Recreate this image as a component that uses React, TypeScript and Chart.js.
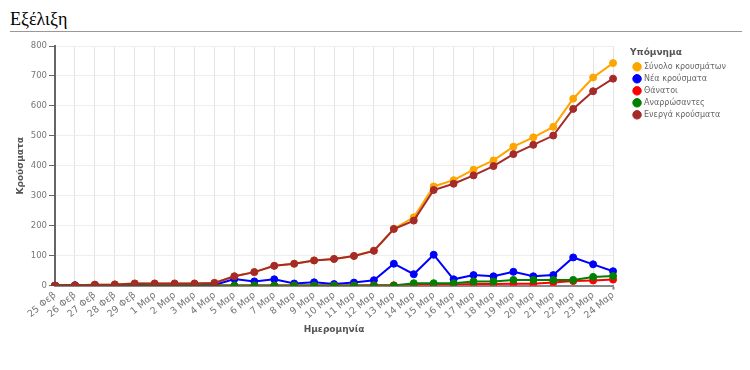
import React, { useEffect, useRef } from "react";
import { Chart, registerables } from "chart.js";
Chart.register(...registerables);

const categories = [
  "25 Φεβ", "26 Φεβ", "27 Φεβ", "28 Φεβ", "29 Φεβ",
  "1 Μαρ", "2 Μαρ", "3 Μαρ", "4 Μαρ", "5 Μαρ", "6 Μαρ", "7 Μαρ", "8 Μαρ",
  "9 Μαρ", "10 Μαρ", "11 Μαρ", "12 Μαρ", "13 Μαρ", "14 Μαρ", "15 Μαρ", "16 Μαρ",
  "17 Μαρ", "18 Μαρ", "19 Μαρ", "20 Μαρ", "21 Μαρ", "22 Μαρ", "23 Μαρ", "24 Μαρ",
];
const totalCases = [0, 1, 3, 4, 7, 7, 7, 7, 9, 31, 45, 66, 73, 84, 89, 99, 117, 190, 228, 331, 352, 387, 418, 464, 495, 530, 624, 695, 743];
const newCases = [0, 1, 2, 1, 3, 0, 0, 0, 2, 22, 14, 21, 7, 11, 5, 10, 18, 73, 38, 103, 21, 35, 31, 46, 31, 35, 94, 71, 48];
const deaths = [0, 0, 0, 0, 0, 0, 0, 0, 0, 0, 0, 0, 0, 0, 0, 0, 1, 1, 3, 4, 4, 5, 5, 6, 6, 10, 15, 17, 20];
const recovered = [0, 0, 0, 0, 0, 0, 0, 0, 0, 0, 0, 0, 0, 0, 0, 0, 0, 0, 8, 8, 8, 14, 14, 19, 19, 19, 19, 29, 32];
const activeCases = [0, 1, 3, 4, 7, 7, 7, 7, 9, 31, 45, 66, 73, 84, 89, 99, 116, 189, 217, 319, 340, 368, 399, 439, 470, 501, 590, 649, 691];

const seriesNames = ["Σύνολο κρουσμάτων", "Νέα κρούσματα", "Θάνατοι", "Αναρρώσαντες", "Ενεργά κρούσματα"];
const seriesColors = ["orange", "blue", "red", "green", "brown"];
const yTicks = [0, 100, 200, 300, 400, 500, 600, 700, 800];

const LEGEND_GAP = 17;
const legendGapPlugin = {
  id: "legendGap",
  beforeInit(chart: any) {
    const lg = chart.legend;
    if (!lg) return;
    const orig = lg.fit;
    lg.fit = function () {
      orig.call(this);
      this.width += LEGEND_GAP;
    };
  },
  afterLayout(chart: any) {
    const lg = chart.legend;
    if (lg) {
      lg.left += LEGEND_GAP;
    }
  },
};

export default function App() {
  const ref = useRef<HTMLCanvasElement | null>(null);
  useEffect(() => {
    if (!ref.current) return;
    const values = [totalCases, newCases, deaths, recovered, activeCases];
    const lastIndex = categories.length - 1;
    const chart = new Chart(ref.current, {
      type: "line",
      plugins: [legendGapPlugin],
      data: {
        labels: categories,
        datasets: values.map((v, i) => ({
          label: seriesNames[i],
          data: v,
          borderColor: seriesColors[i],
          backgroundColor: seriesColors[i],
          pointBackgroundColor: seriesColors[i],
          pointBorderColor: seriesColors[i],
          pointRadius: 3.5,
          pointBorderWidth: 1,
          borderWidth: 2,
          tension: 0,
          fill: false,
          order: 5 - i,
        })),
      },
      options: {
        animation: false,
        responsive: false,
        layout: { padding: { left: 0, right: 14, top: 11, bottom: 26 } },
        plugins: {
          tooltip: { enabled: false },
          legend: {
            position: "right",
            align: "start",
            title: {
              display: true,
              text: "Υπόμνημα",
              position: "start",
              color: "#555",
              font: { family: "DejaVu Sans", size: 9, weight: "bold" },
              padding: { top: 2, bottom: 0 },
            },
            labels: {
              usePointStyle: true,
              pointStyle: "circle",
              boxWidth: 6,
              boxHeight: 6,
              padding: 4,
              color: "#666",
              font: { family: "DejaVu Sans", size: 8 },
              sort: (a: any, b: any) => a.datasetIndex - b.datasetIndex,
            },
          },
        },
        scales: {
          x: {
            ticks: {
              color: "#777",
              font: { family: "DejaVu Sans", size: 9.5 },
              minRotation: 40,
              maxRotation: 40,
              autoSkip: false,
              padding: 0,
            },
            grid: {
              color: "#e3e3e3",
              tickColor: (ctx: any) => (ctx.index === lastIndex ? "#888" : "rgba(0,0,0,0)"),
              tickLength: 4,
              tickWidth: 2,
            },
            border: { color: "#888", width: 2 },
            title: {
              display: true,
              text: "Ημερομηνία",
              color: "#555",
              font: { family: "DejaVu Sans", size: 9, weight: "bold" },
              padding: { top: 3 },
            },
          },
          y: {
            min: 0,
            max: 800,
            afterBuildTicks: (axis: any) => {
              axis.ticks = yTicks.map((v) => ({ value: v }));
            },
            ticks: {
              color: "#777",
              font: { family: "DejaVu Sans", size: 8.5 },
              padding: 2,
            },
            grid: { color: "#eeeeee", tickColor: "#666", tickLength: 6 },
            border: { color: "#666", width: 2 },
            title: {
              display: true,
              text: "Κρούσματα",
              color: "#555",
              font: { family: "DejaVu Sans", size: 9, weight: "bold" },
              padding: { top: 7, bottom: 3 },
            },
          },
        },
      },
    });
    return () => chart.destroy();
  }, []);
  return (
    <div>
      <div
        style={{
          fontFamily: "Liberation Serif, serif",
          fontSize: 18,
          lineHeight: "22px",
          height: 23,
          marginLeft: 2,
          marginRight: -8,
          borderBottom: "1px solid #999",
          color: "#000",
        }}
      >
        Εξέλιξη
      </div>
      <canvas ref={ref} width={742} height={330} style={{ display: "block", marginTop: 3 }} />
    </div>
  );
}
